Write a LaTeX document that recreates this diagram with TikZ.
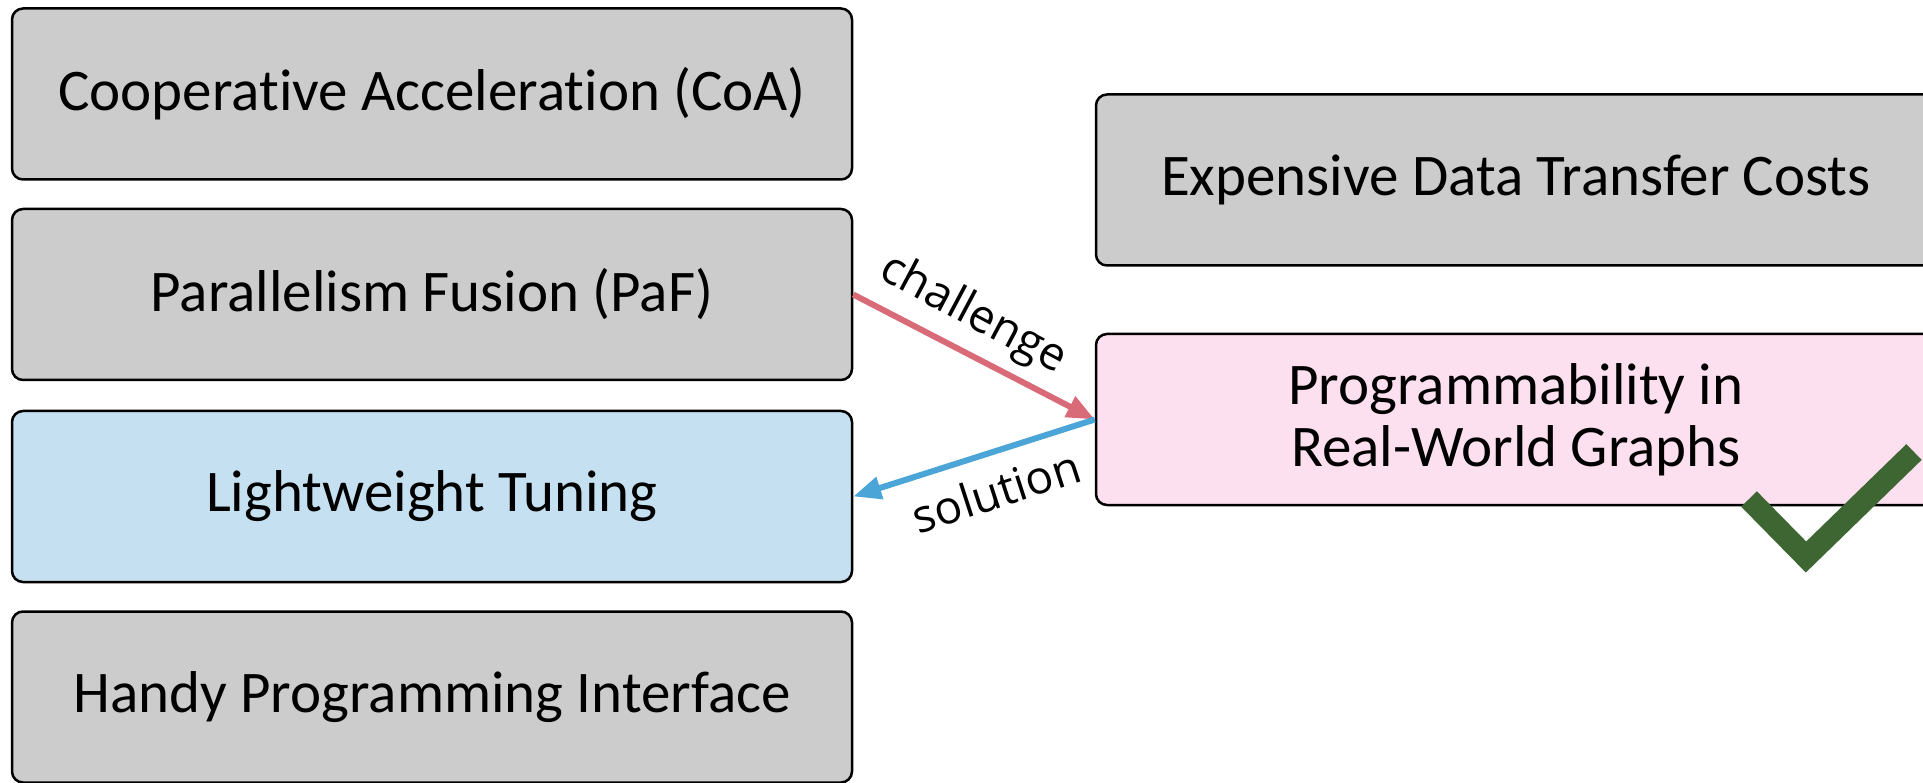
\documentclass[tikz,border=0pt]{standalone}
\usepackage{fontspec}
\setmainfont{Carlito}[Ligatures=NoCommon]
\newfontfamily\labelfont{Open Sans}
\usetikzlibrary{arrows.meta}
\definecolor{boxgray}{HTML}{CCCCCC}
\definecolor{boxblue}{HTML}{C5E0F1}
\definecolor{boxpink}{HTML}{FDE0EF}
\definecolor{chalred}{HTML}{D86B77}
\definecolor{solblue}{HTML}{4BA5D6}
\definecolor{checkgreen}{HTML}{3D6632}
\begin{document}
\begin{tikzpicture}[x=1pt,y=-1pt,
  box/.style={draw=black, line width=2.5pt, rounded corners=11pt,
    minimum width=840pt, minimum height=171pt, inner sep=0pt, align=center,
    font=\fontsize{59}{62}\selectfont},
  lab/.style={font=\labelfont\fontsize{46}{50}\selectfont, inner sep=0pt},
  conn/.style={line width=6pt, -{Triangle[length=28pt,width=22pt]}}]
\useasboundingbox (0,0) rectangle (1923,783);
\clip (0,0) rectangle (1923,783);
\node[box, fill=boxgray] (coa) at (432,94) {Cooperative Acceleration (CoA)};
\node[box, fill=boxgray] (paf) at (432,294.5) {Parallelism Fusion (PaF)};
\node[box, fill=boxblue] (light) at (432,496.5) {Lightweight Tuning};
\node[box, fill=boxgray] (handy) at (432,697) {Handy Programming Interface};
\node[box, fill=boxgray] (cost) at (1516,180) {Expensive Data Transfer Costs};
\node[box, fill=boxpink] (prog) at (1516,419.5) {Programmability in\\Real-World Graphs};
\draw[conn, draw=chalred, fill=chalred] (paf.east) -- (prog.west);
\draw[conn, draw=solblue, fill=solblue] (prog.west) -- (light.east);
\node[lab, rotate=-28] (lchal) at (973,315) {challenge};
\node[lab, rotate=18] (lsol) at (996,491) {solution};
\draw[line width=22pt, draw=checkgreen] (1749,499) -- (1806,557) -- (1914,452);
\end{tikzpicture}
\end{document}
